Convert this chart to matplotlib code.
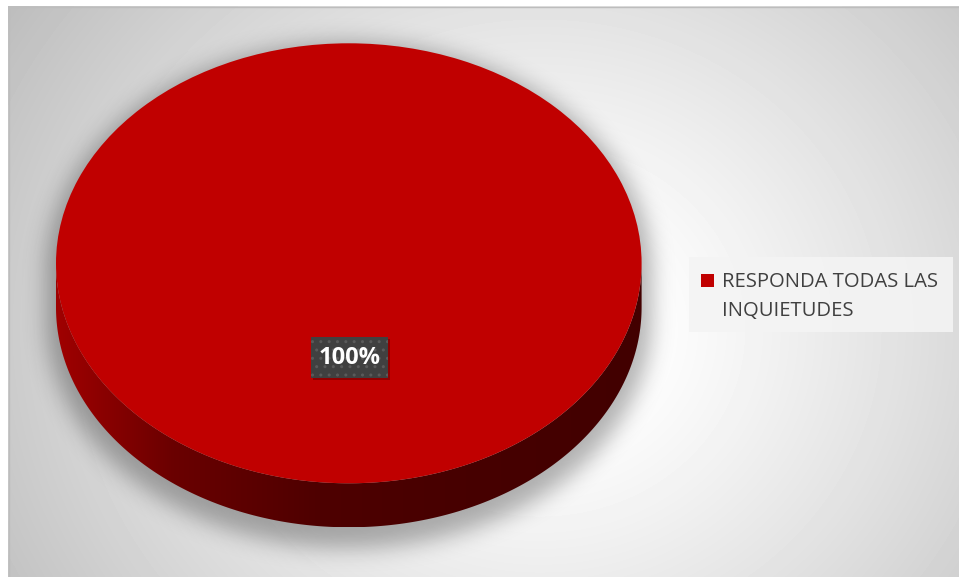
import textwrap
import numpy as np
import matplotlib
matplotlib.use("Agg")
import matplotlib.pyplot as plt
from matplotlib.patches import Rectangle, Polygon
from matplotlib.colors import to_rgb

# ---- data ----
categories = ["RESPONDA TODAS LAS INQUIETUDES"]
values = [100]
colors = ["#C00000"]

W, H = 959, 577
fig = plt.figure(figsize=(W / 100, H / 100), dpi=100)
fig.patch.set_facecolor("white")

# base layer in pixel coordinates (y grows downward)
base = fig.add_axes([0, 0, 1, 1], zorder=0)
base.axis("off")

# chart area with a soft radial gradient
x0c, y0c = 8, 6
yy, xx = np.mgrid[y0c:H, x0c:W] + 0.5
r = np.hypot(xx - 540, (yy - 330) * 1.1)
v = 255 - 62 * np.clip((r - 90) / 520, 0, None) ** 1.15
base.imshow(np.clip(v, 0, 255) / 255, cmap="gray", vmin=0, vmax=1,
            extent=(x0c, W, H, y0c), interpolation="bilinear", zorder=0)

# pie geometry (pixels)
cx, cy, a, b, depth = 348.8, 263.3, 292.8, 220.0, 44.0


def gblur(img, sigma):
    k = np.arange(-int(3 * sigma), int(3 * sigma) + 1)
    g = np.exp(-0.5 * (k / sigma) ** 2)
    g /= g.sum()
    out = np.apply_along_axis(lambda m: np.convolve(m, g, mode="same"), 1, img)
    out = np.apply_along_axis(lambda m: np.convolve(m, g, mode="same"), 0, out)
    return out


# soft shadow under the pie
fy, fx = np.mgrid[0:H, 0:W] + 0.5
sa, sb, sdy = a * 1.035, b * 1.05, 10
top_e = ((fx - cx) / sa) ** 2 + ((fy - cy - sdy) / sb) ** 2 <= 1
bot_e = ((fx - cx) / sa) ** 2 + ((fy - cy - sdy - depth) / sb) ** 2 <= 1
band = (np.abs(fx - cx) <= sa) & (fy >= cy + sdy) & (fy <= cy + sdy + depth)
sil = (top_e | bot_e | band).astype(float)
shadow = gblur(sil, 11)
rgba = np.zeros((H, W, 4))
rgba[..., 3] = 0.30 * shadow
base.imshow(rgba, extent=(0, W, H, 0), interpolation="bilinear", zorder=1)

# side wall of the pie with left-to-right shading
t = np.linspace(0, np.pi, 300)
upper = np.column_stack([cx + a * np.cos(t), cy + b * np.sin(t)])
lower = np.column_stack([cx + a * np.cos(t[::-1]), cy + depth + b * np.sin(t[::-1])])
side = Polygon(np.vstack([upper, lower]), closed=True, facecolor="none",
               edgecolor="none", transform=base.transData)
base.add_patch(side)
gx = np.linspace(0, 1, 600)
stops_x = [0.0, 0.08, 0.2, 0.45, 0.7, 1.0]
stops_c = [to_rgb(c) for c in ["#a00000", "#8a0000", "#6a0000", "#4e0000",
                               "#470000", "#420000"]]
grad = np.stack([np.interp(gx, stops_x, [c[i] for c in stops_c]) for i in range(3)], axis=-1)
im = base.imshow(grad[None, :, :], extent=(cx - a, cx + a, cy + b + depth, cy),
                 aspect="auto", interpolation="bilinear", zorder=2)
im.set_clip_path(side)
base.set_xlim(0, W)
base.set_ylim(H, 0)

# top surface: the pie itself, stretched into an ellipse
ax_pie = fig.add_axes([(cx - a) / W, 1 - (cy + b) / H, 2 * a / W, 2 * b / H], zorder=1)
wedges, _ = ax_pie.pie(values, colors=colors, radius=1, startangle=90,
                       counterclock=False, wedgeprops=dict(linewidth=0))
ax_pie.set_aspect("auto")
ax_pie.set_xlim(-1, 1)
ax_pie.set_ylim(-1, 1)
ax_pie.axis("off")

# overlay for labels and legend
top = fig.add_axes([0, 0, 1, 1], zorder=2)
top.set_xlim(0, W)
top.set_ylim(H, 0)
top.axis("off")
top.patch.set_alpha(0)

# data label
pct = values[0] / sum(values) * 100
top.add_patch(Rectangle((313, 339), 77, 41, facecolor="black", alpha=0.25, lw=0))
top.add_patch(Rectangle((311, 337), 77, 41, facecolor="#404040", edgecolor="#5a5a5a",
                        hatch="..", lw=0))
top.text(349.5, 358, f"{pct:.0f}%", color="white", fontsize=17, fontweight="bold",
         family="Open Sans", ha="center", va="center")

# legend
top.add_patch(Rectangle((689, 257), 264, 75, facecolor="#f4f4f4", alpha=0.9, lw=0))
top.add_patch(Rectangle((701, 274), 13, 13, facecolor=colors[0], lw=0))
for i, line in enumerate(textwrap.wrap(categories[0], 18)):
    top.text(722, 287.3 + 28.4 * i, line, color="#404040", fontsize=14.6,
             family="Open Sans", ha="left", va="baseline")

# chart border
top.add_patch(Rectangle((8.5, 6.5), W - 8, H - 6, facecolor="none",
                        edgecolor="#bdbdbd", lw=1))

fig.savefig("out.png", dpi=100, facecolor=fig.get_facecolor())
